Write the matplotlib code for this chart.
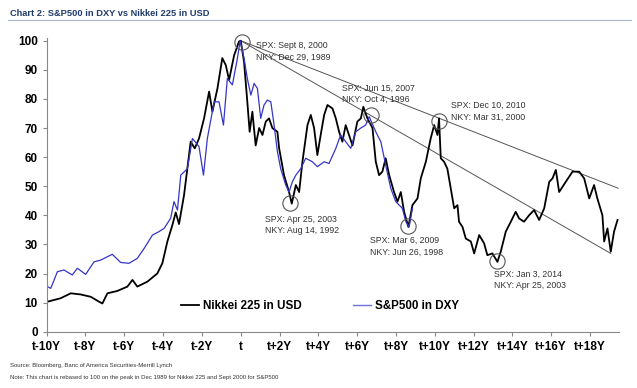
import matplotlib
matplotlib.use("Agg")
import matplotlib.pyplot as plt
from matplotlib.lines import Line2D

plt.rcParams["font.family"] = ["Liberation Sans", "DejaVu Sans"]

# Nikkei 225 in USD, years relative to peak (t), rebased to 100
nky_x = [-9.97, -9.28, -8.76, -8.25, -7.73, -7.30, -7.13, -6.87, -6.36, -5.84, -5.58, -5.33,
         -4.81, -4.30, -4.04, -3.78, -3.52, -3.35, -3.18, -2.92, -2.75, -2.58, -2.37, -2.15,
         -1.89, -1.63, -1.46, -1.20, -0.95, -0.77, -0.60, -0.34, -0.09, 0.0,
         0.17, 0.34, 0.46, 0.60, 0.77, 0.95, 1.12, 1.29, 1.46, 1.63, 1.89, 1.98, 2.23, 2.49,
         2.63, 2.84, 3.01, 3.18, 3.44, 3.61, 3.78, 3.95, 4.12, 4.30, 4.47, 4.73, 4.90, 5.07,
         5.24, 5.41, 5.58, 5.76, 6.01, 6.19, 6.32, 6.53, 6.79, 6.96, 7.13, 7.30, 7.47, 7.65,
         7.90, 8.08, 8.25, 8.42, 8.64, 8.85, 9.11, 9.28, 9.54, 9.79, 9.97,
         10.14, 10.22, 10.31, 10.48, 10.65, 10.82, 11.00, 11.17, 11.25, 11.43, 11.60, 11.86,
         12.03, 12.29, 12.54, 12.71, 12.97, 13.23, 13.40, 13.66, 13.92, 14.17, 14.35, 14.60,
         14.86, 15.12, 15.38, 15.64, 15.90, 16.07, 16.24, 16.41, 16.75, 17.10, 17.44, 17.70,
         17.96, 18.21, 18.38, 18.64, 18.73, 18.90, 19.07, 19.24, 19.42]
nky_y = [10.3, 11.5, 13.2, 12.8, 12.0, 10.3, 9.7, 13.2, 14.0, 15.5, 17.8, 15.5,
         17.2, 20.0, 23.5, 31.0, 36.7, 41.0, 37.0, 47.0, 56.0, 65.3, 63.0, 66.4,
         73.3, 82.5, 75.6, 83.6, 94.0, 91.6, 86.5, 95.0, 99.7, 100.0,
         92.8, 79.0, 68.7, 75.6, 64.0, 70.0, 67.6, 72.2, 73.3, 70.0, 68.7, 63.0, 53.8, 48.0,
         44.0, 50.4, 48.0, 58.4, 71.0, 74.5, 70.0, 60.7, 67.6, 74.5, 77.9, 76.7, 73.3, 68.7,
         65.3, 71.0, 67.6, 64.0, 72.2, 73.3, 77.3, 73.3, 70.0, 58.4, 53.8, 55.0, 59.6, 53.8,
         48.0, 44.7, 48.0, 41.2, 36.0, 43.5, 45.8, 52.7, 58.4, 66.4, 71.0,
         67.6, 73.3, 59.6, 58.4, 56.0, 49.3, 42.4, 43.5, 37.8, 36.0, 32.0, 31.0,
         26.9, 33.2, 30.4, 26.3, 26.9, 24.0, 27.5, 34.4, 37.8, 41.2, 38.9, 37.8,
         40.0, 41.8, 38.4, 42.4, 51.5, 52.7, 55.6, 48.0, 51.5, 55.0, 55.0, 52.7,
         45.8, 50.4, 45.8, 40.0, 31.0, 35.5, 27.5, 34.4, 38.4]

# S&P500 in DXY
spx_x = [-9.97, -9.79, -9.45, -9.11, -8.68, -8.42, -7.99, -7.56, -7.22, -6.62, -6.19, -5.76,
         -5.33, -4.98, -4.55, -4.21, -3.95, -3.61, -3.44, -3.26, -3.09, -2.75, -2.49, -2.15,
         -1.92, -1.72, -1.37, -1.12, -0.89, -0.69, -0.43, -0.17, -0.03,
         0.17, 0.34, 0.52, 0.69, 0.86, 1.03, 1.20, 1.37, 1.55, 1.72, 1.89, 2.06, 2.32, 2.49,
         2.66, 2.84, 3.09, 3.35, 3.69, 3.95, 4.30, 4.55, 4.90, 5.15, 5.41, 5.67, 5.93, 6.19,
         6.44, 6.62, 6.96, 7.22, 7.47, 7.73, 7.99, 8.33, 8.51, 8.68, 8.85]
spx_y = [15.5, 14.9, 20.6, 21.2, 19.5, 21.8, 19.7, 24.0, 24.6, 26.6, 23.8, 23.5,
         25.2, 28.6, 33.2, 34.4, 35.5, 39.0, 44.7, 41.8, 53.8, 56.0, 66.4, 63.6,
         53.8, 66.4, 79.0, 79.0, 71.0, 87.0, 84.8, 94.0, 100.0,
         94.0, 87.0, 81.3, 85.3, 83.6, 73.3, 77.9, 79.6, 79.0, 71.0, 61.9, 56.0, 50.4, 48.0,
         51.5, 53.8, 56.0, 59.6, 58.4, 56.7, 58.4, 57.8, 63.0, 67.6, 65.3, 63.0, 68.7, 70.0,
         71.0, 73.9, 68.7, 65.3, 57.3, 49.3, 44.7, 42.4, 37.8, 36.0, 42.4]

# trend lines from the common peak
trend_x = [0.0, 19.45]
trend_upper = [100.0, 49.3]
trend_lower_x = [0.0, 19.07]
trend_lower = [100.0, 26.9]

# circled turning points and their labels
circle_x = [0.05, 2.55, 6.70, 8.60, 10.22, 13.23]
circle_y = [99.6, 44.2, 74.5, 36.4, 72.4, 24.3]
note_x = [0.77, 1.26, 5.21, 6.65, 10.82, 13.06]
note_y = [96.4, 36.7, 81.8, 29.4, 75.7, 17.7]
note_text = [
    "SPX: Sept 8, 2000\nNKY: Dec 29, 1989",
    "SPX: Apr 25, 2003\nNKY: Aug 14, 1992",
    "SPX: Jun 15, 2007\nNKY: Oct 4, 1996",
    "SPX: Mar 6, 2009\nNKY: Jun 26, 1998",
    "SPX: Dec 10, 2010\nNKY: Mar 31, 2000",
    "SPX: Jan 3, 2014\nNKY: Apr 25, 2003",
]

tick_pos = [-10, -8, -6, -4, -2, 0, 2, 4, 6, 8, 10, 12, 14, 16, 18]
tick_labels = ["t-10Y", "t-8Y", "t-6Y", "t-4Y", "t-2Y", "t", "t+2Y", "t+4Y", "t+6Y",
               "t+8Y", "t+10Y", "t+12Y", "t+14Y", "t+16Y", "t+18Y"]

fig = plt.figure(figsize=(6.37, 3.88), dpi=100)
ax = fig.add_axes([0.0733, 0.1451, 0.8986, 0.7575])

ax.plot(trend_x, trend_upper, color="#555555", linewidth=0.7)
ax.plot(trend_lower_x, trend_lower, color="#555555", linewidth=0.7)
ax.plot(nky_x, nky_y, color="black", linewidth=1.3, label="Nikkei 225 in USD")
ax.plot(spx_x, spx_y, color="#3535c8", linewidth=0.9, label="S&P500 in DXY")
ax.plot(circle_x, circle_y, linestyle="none", marker="o", markersize=11,
        markerfacecolor="none", markeredgecolor="#555555", markeredgewidth=0.8,
        clip_on=False)

for x, y, s in zip(note_x, note_y, note_text):
    ax.text(x, y, s, fontsize=6.3, color="#333333", ha="left", va="center", linespacing=1.35)

ax.set_xlim(-10, 19.5)
ax.set_ylim(0, 101)
ax.set_yticks(range(0, 101, 10))
ax.set_xticks(tick_pos)
ax.set_xticklabels(tick_labels)
for side in ("top", "right"):
    ax.spines[side].set_visible(False)
for side in ("left", "bottom"):
    ax.spines[side].set_color("#888888")
    ax.spines[side].set_linewidth(0.8)
ax.tick_params(axis="both", colors="#888888", labelcolor="black", length=3, width=0.8,
               labelsize=8.5)
for lab in ax.get_xticklabels() + ax.get_yticklabels():
    lab.set_fontweight("bold")

handles = [Line2D([], [], color="black", linewidth=1.3),
           Line2D([], [], color="#7070e0", linewidth=1.0)]
fig.legend(handles, ["Nikkei 225 in USD", "S&P500 in DXY"], loc="center",
           bbox_to_anchor=(0.502, 0.211), ncol=2, frameon=False, handlelength=1.55,
           handletextpad=0.35, columnspacing=4.4, prop={"weight": "bold", "size": 8.4})

fig.text(0.016, 0.966, "Chart 2: S&P500 in DXY vs Nikkei 225 in USD", fontsize=6.7,
         fontweight="bold", color="#1f3a6e", ha="left", va="center")
fig.add_artist(Line2D([0.012, 0.99], [0.948, 0.948], color="#a8b4c8", linewidth=0.8))
fig.text(0.016, 0.059, "Source: Bloomberg, Banc of America Securities-Merrill Lynch",
         fontsize=4.3, color="#333333", ha="left", va="center")
fig.text(0.016, 0.026, "Note: This chart is rebased to 100 on the peak in Dec 1989 for "
         "Nikkei 225 and Sept 2000 for S&P500", fontsize=4.3, color="#333333",
         ha="left", va="center")

fig.savefig("out.png", dpi=100)
